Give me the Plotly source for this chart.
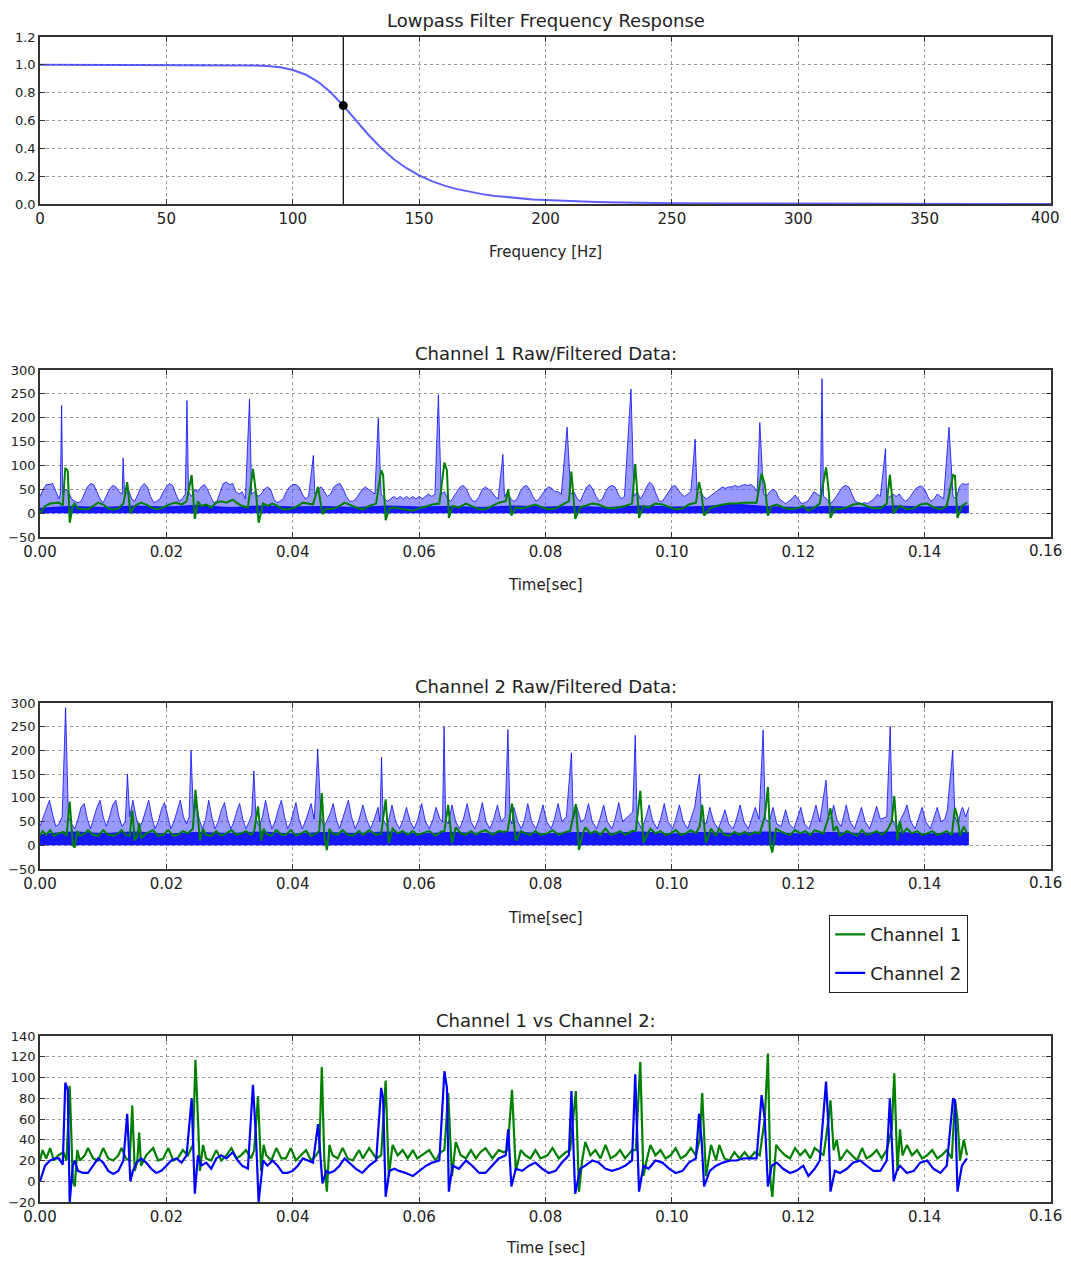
import plotly.graph_objects as go

# ---------------- data ----------------
freq_hz = [0, 10, 20, 30, 40, 50, 60, 70, 75, 80, 85, 90, 95, 100, 105, 110, 115, 120, 125, 130,
           135, 140, 145, 150, 155, 160, 165, 170, 175, 180, 185, 190, 195, 200, 210, 220, 230,
           240, 250, 275, 300, 350, 400]
gain = [1.0, 1.0, 1.0, 1.0, 1.0, 1.0, 1.0, 0.999, 0.999, 0.998, 0.996, 0.991, 0.982, 0.963, 0.931,
        0.878, 0.803, 0.707, 0.601, 0.496, 0.402, 0.322, 0.257, 0.205, 0.164, 0.132, 0.107, 0.087,
        0.071, 0.058, 0.048, 0.040, 0.033, 0.028, 0.020, 0.014, 0.011, 0.008, 0.006, 0.003, 0.002,
        0.001, 0.0]
cutoff_hz = 120
cutoff_gain = 0.707

# channel 1 raw signal: upper envelope (time s, value)
raw1_env = [
    (0.0000, 35), (0.0005, 50), (0.0010, 60), (0.0015, 60), (0.0020, 62), (0.0025, 45), (0.0030, 30),
    (0.0032, 40), (0.00342, 226), (0.0036, 40), (0.0040, 50), (0.0045, 45), (0.0050, 30), (0.0055, 25),
    (0.0060, 22), (0.0065, 25), (0.0070, 40), (0.0075, 55), (0.0080, 62), (0.0085, 60), (0.0090, 45),
    (0.0095, 30), (0.0100, 22), (0.0105, 35), (0.0110, 50), (0.0115, 58), (0.0120, 55), (0.0125, 45),
    (0.0130, 40), (0.01316, 116), (0.0134, 35), (0.0140, 50), (0.0145, 30), (0.0150, 25), (0.0155, 40),
    (0.0160, 55), (0.0165, 62), (0.0170, 55), (0.0175, 35), (0.0180, 22), (0.0185, 25), (0.0190, 30),
    (0.0195, 45), (0.0200, 55), (0.0205, 62), (0.0210, 58), (0.0215, 40), (0.0220, 25), (0.0225, 30),
    (0.0230, 40), (0.02326, 236), (0.0235, 45), (0.0240, 35), (0.0245, 50), (0.0250, 45), (0.0255, 55),
    (0.0260, 60), (0.0265, 50), (0.0270, 35), (0.0275, 22), (0.0280, 25), (0.0285, 45), (0.0290, 62),
    (0.0295, 65), (0.0300, 60), (0.0305, 62), (0.0310, 45), (0.0315, 40), (0.0320, 45), (0.0325, 30),
    (0.03316, 239), (0.0335, 40), (0.0340, 45), (0.0345, 35), (0.0350, 40), (0.0355, 50), (0.0360, 55),
    (0.0365, 50), (0.0370, 30), (0.0375, 22), (0.0380, 25), (0.0385, 30), (0.0390, 45), (0.0395, 55),
    (0.0400, 60), (0.0405, 60), (0.0410, 55), (0.0415, 40), (0.0420, 30), (0.0425, 35), (0.04326, 121),
    (0.0435, 40), (0.0440, 50), (0.0445, 55), (0.0450, 45), (0.0455, 35), (0.0460, 40), (0.0465, 55),
    (0.0470, 60), (0.0475, 62), (0.0480, 50), (0.0485, 35), (0.0490, 25), (0.0495, 25), (0.0500, 30),
    (0.0505, 40), (0.0510, 50), (0.0515, 55), (0.0520, 50), (0.0525, 45), (0.0530, 40), (0.05353, 199),
    (0.0540, 40), (0.0545, 30), (0.0550, 25), (0.0555, 30), (0.0560, 35), (0.0565, 30), (0.0570, 35),
    (0.0575, 30), (0.0580, 35), (0.0585, 30), (0.0590, 35), (0.0595, 30), (0.0600, 35), (0.0605, 30),
    (0.0610, 35), (0.0615, 40), (0.0620, 35), (0.0625, 40), (0.06305, 248), (0.0635, 40), (0.0640, 45),
    (0.0645, 30), (0.0650, 25), (0.0655, 35), (0.0660, 45), (0.0665, 55), (0.0670, 58), (0.0675, 50),
    (0.0680, 35), (0.0685, 25), (0.0690, 25), (0.0695, 35), (0.0700, 50), (0.0705, 55), (0.0710, 50),
    (0.0715, 45), (0.0720, 35), (0.0725, 30), (0.07326, 123), (0.0735, 35), (0.0740, 45), (0.0745, 30),
    (0.0750, 25), (0.0755, 30), (0.0760, 45), (0.0765, 55), (0.0770, 58), (0.0775, 50), (0.0780, 35),
    (0.0785, 25), (0.0790, 30), (0.0795, 40), (0.0800, 50), (0.0805, 55), (0.0810, 52), (0.0815, 45),
    (0.0820, 45), (0.0825, 40), (0.08342, 180), (0.0840, 40), (0.0845, 45), (0.0850, 30), (0.0855, 25),
    (0.0860, 40), (0.0865, 55), (0.0870, 60), (0.0875, 50), (0.0880, 35), (0.0885, 25), (0.0890, 30),
    (0.0895, 45), (0.0900, 55), (0.0905, 58), (0.0910, 55), (0.0915, 40), (0.0920, 30), (0.0925, 35),
    (0.09353, 260), (0.0940, 35), (0.0945, 45), (0.0950, 30), (0.0955, 40), (0.0960, 55), (0.0965, 65),
    (0.0970, 58), (0.0975, 40), (0.0980, 25), (0.0985, 25), (0.0990, 35), (0.0995, 45), (0.1000, 55),
    (0.1005, 58), (0.1010, 50), (0.1015, 40), (0.1020, 35), (0.1025, 40), (0.1030, 45), (0.10368, 155),
    (0.1040, 40), (0.1045, 45), (0.1050, 35), (0.1055, 30), (0.1060, 35), (0.1065, 40), (0.1070, 45),
    (0.1075, 50), (0.1080, 55), (0.1085, 52), (0.1090, 55), (0.1095, 55), (0.1100, 58), (0.1105, 55),
    (0.1110, 58), (0.1115, 60), (0.1120, 58), (0.1125, 60), (0.1130, 55), (0.1135, 45), (0.11392, 190),
    (0.1145, 40), (0.1150, 35), (0.1155, 45), (0.1160, 50), (0.1165, 45), (0.1170, 30), (0.1175, 25),
    (0.1180, 20), (0.1185, 25), (0.1190, 30), (0.1195, 38), (0.1200, 30), (0.1205, 20), (0.1210, 22),
    (0.1215, 25), (0.1220, 35), (0.1225, 45), (0.1230, 40), (0.1235, 35), (0.12376, 282), (0.1240, 35),
    (0.1245, 30), (0.1250, 20), (0.1255, 25), (0.1260, 35), (0.1265, 45), (0.1270, 55), (0.1275, 58),
    (0.1280, 55), (0.1285, 40), (0.1290, 25), (0.1295, 22), (0.1300, 20), (0.1305, 22), (0.1310, 20),
    (0.1315, 25), (0.1320, 30), (0.1325, 40), (0.1330, 35), (0.13381, 135), (0.1340, 30), (0.1345, 35),
    (0.1350, 40), (0.1355, 35), (0.1360, 40), (0.1365, 30), (0.1370, 25), (0.1375, 30), (0.1380, 40),
    (0.1385, 50), (0.1390, 55), (0.1395, 57), (0.1400, 50), (0.1405, 35), (0.1410, 25), (0.1415, 30),
    (0.1420, 40), (0.1425, 35), (0.1430, 30), (0.14386, 180), (0.1445, 35), (0.1450, 30), (0.1455, 55),
    (0.1460, 62), (0.1465, 60), (0.1470, 62),
]
# channel 1 raw signal: dense dark core top
raw1_core = [
    (0.000, 10), (0.005, 14), (0.010, 12), (0.015, 15), (0.020, 13), (0.025, 16), (0.030, 12),
    (0.035, 15), (0.040, 13), (0.045, 14), (0.050, 12), (0.055, 15), (0.060, 13), (0.065, 14),
    (0.070, 12), (0.075, 15), (0.080, 13), (0.085, 14), (0.090, 12), (0.095, 15), (0.100, 13),
    (0.105, 14), (0.110, 18), (0.115, 14), (0.120, 12), (0.125, 14), (0.130, 12), (0.135, 15),
    (0.140, 13), (0.147, 15),
]

# channel 2 raw signal: upper envelope
raw2_env = [
    (0.0000, 40), (0.0005, 60), (0.0010, 80), (0.0015, 95), (0.0020, 65), (0.0025, 40), (0.0030, 45),
    (0.0035, 60), (0.00405, 290), (0.0045, 60), (0.0050, 45), (0.0055, 35), (0.0060, 55), (0.0065, 80),
    (0.0070, 88), (0.0075, 55), (0.0080, 35), (0.0085, 55), (0.0090, 80), (0.0095, 95), (0.0100, 60),
    (0.0105, 40), (0.0110, 60), (0.0115, 85), (0.0120, 95), (0.0125, 60), (0.0130, 40), (0.0135, 50),
    (0.01384, 150), (0.0142, 60), (0.0147, 95), (0.0152, 60), (0.0157, 35), (0.0162, 50), (0.0167, 75),
    (0.0172, 95), (0.0177, 60), (0.0182, 35), (0.0187, 50), (0.0192, 75), (0.0197, 90), (0.0202, 60),
    (0.0207, 35), (0.0212, 50), (0.0217, 75), (0.0222, 95), (0.0227, 60), (0.0232, 45), (0.0236, 60),
    (0.0239, 200), (0.0243, 60), (0.0247, 90), (0.0252, 55), (0.0257, 35), (0.0262, 55), (0.0267, 95),
    (0.0272, 60), (0.0277, 35), (0.0282, 50), (0.0287, 75), (0.0292, 90), (0.0297, 55), (0.0302, 35),
    (0.0307, 50), (0.0312, 75), (0.0316, 88), (0.0321, 55), (0.0326, 35), (0.0331, 50), (0.0335, 65),
    (0.03384, 157), (0.0342, 55), (0.0347, 40), (0.0352, 60), (0.0357, 95), (0.0362, 60), (0.0367, 35),
    (0.0372, 50), (0.0377, 75), (0.0382, 95), (0.0387, 60), (0.0392, 35), (0.0397, 50), (0.0402, 75),
    (0.0405, 90), (0.0410, 55), (0.0415, 35), (0.0420, 50), (0.0425, 70), (0.0429, 88), (0.0434, 55),
    (0.04395, 203), (0.0445, 55), (0.0450, 40), (0.0455, 55), (0.0460, 70), (0.0464, 88), (0.0469, 55),
    (0.0474, 35), (0.0479, 55), (0.0484, 80), (0.0488, 95), (0.0493, 60), (0.0499, 35), (0.0505, 55),
    (0.0511, 85), (0.0517, 55), (0.0523, 35), (0.0529, 55), (0.0535, 80), (0.0538, 50), (0.05405, 186),
    (0.0543, 55), (0.0549, 40), (0.0553, 60), (0.0557, 85), (0.0563, 50), (0.0569, 35), (0.0575, 55),
    (0.0580, 80), (0.0586, 50), (0.0592, 35), (0.0598, 55), (0.0604, 88), (0.0610, 50), (0.0616, 35),
    (0.0622, 55), (0.0627, 80), (0.0633, 55), (0.0637, 50), (0.06395, 250), (0.0642, 55), (0.0646, 45),
    (0.0652, 85), (0.0658, 50), (0.0664, 35), (0.0670, 55), (0.0676, 88), (0.0682, 50), (0.0688, 35),
    (0.0694, 55), (0.0700, 90), (0.0706, 50), (0.0712, 35), (0.0718, 55), (0.0724, 85), (0.0730, 50),
    (0.0736, 60), (0.07405, 244), (0.0744, 55), (0.0747, 45), (0.0750, 80), (0.0756, 50), (0.0762, 35),
    (0.0767, 55), (0.0772, 88), (0.0778, 50), (0.0785, 35), (0.0790, 55), (0.0796, 85), (0.0802, 50),
    (0.0809, 35), (0.0814, 55), (0.0820, 88), (0.0826, 50), (0.0833, 60), (0.0841, 195), (0.0844, 55),
    (0.0850, 80), (0.0856, 50), (0.0862, 55), (0.0868, 88), (0.0874, 50), (0.0881, 35), (0.0886, 55),
    (0.0892, 85), (0.0898, 50), (0.0905, 35), (0.0910, 55), (0.0916, 90), (0.0922, 50), (0.0930, 60),
    (0.0938, 70), (0.0942, 232), (0.0945, 55), (0.0952, 35), (0.0958, 55), (0.0964, 85), (0.0970, 50),
    (0.0977, 35), (0.0982, 55), (0.0988, 88), (0.0994, 50), (0.1001, 35), (0.1006, 55), (0.1012, 85),
    (0.1018, 50), (0.1025, 35), (0.1030, 55), (0.1036, 80), (0.10437, 150), (0.1047, 55), (0.1054, 45),
    (0.1060, 80), (0.1066, 50), (0.1073, 35), (0.1078, 50), (0.1084, 75), (0.1090, 45), (0.1097, 35),
    (0.1102, 55), (0.1108, 85), (0.1114, 50), (0.1121, 35), (0.1126, 55), (0.1132, 80), (0.1138, 55),
    (0.11444, 243), (0.1148, 55), (0.1154, 50), (0.1160, 80), (0.1166, 45), (0.1173, 40), (0.1180, 75),
    (0.1186, 45), (0.1193, 35), (0.1198, 55), (0.1204, 80), (0.1210, 45), (0.1217, 35), (0.1222, 55),
    (0.1228, 85), (0.1234, 50), (0.12439, 137), (0.1248, 55), (0.1252, 60), (0.1256, 85), (0.1262, 50),
    (0.1268, 40), (0.1272, 60), (0.1276, 85), (0.1282, 50), (0.1289, 35), (0.1294, 55), (0.1300, 80),
    (0.1306, 50), (0.1313, 35), (0.1318, 55), (0.1324, 82), (0.1330, 55), (0.1340, 60), (0.13455, 251),
    (0.1349, 55), (0.1356, 35), (0.1362, 55), (0.1368, 70), (0.1372, 85), (0.1378, 50), (0.1385, 35),
    (0.1390, 55), (0.1396, 80), (0.1402, 50), (0.1409, 35), (0.1414, 55), (0.1420, 80), (0.1426, 50),
    (0.1432, 55), (0.1436, 75), (0.14444, 200), (0.1448, 60), (0.1453, 45), (0.1457, 70), (0.1460, 80),
    (0.1465, 60), (0.1470, 80),
]
raw2_core = [
    (0.000, 22), (0.005, 28), (0.010, 25), (0.015, 28), (0.020, 24), (0.025, 27), (0.030, 25),
    (0.035, 28), (0.040, 24), (0.045, 27), (0.050, 25), (0.055, 28), (0.060, 24), (0.065, 27),
    (0.070, 25), (0.075, 28), (0.080, 24), (0.085, 27), (0.090, 25), (0.095, 28), (0.100, 24),
    (0.105, 27), (0.110, 25), (0.115, 28), (0.120, 24), (0.125, 27), (0.130, 25), (0.135, 28),
    (0.140, 24), (0.147, 27),
]

# filtered channel 1 (green in the Channel 1 panel, blue in the bottom panel)
filt1 = [
    (0.0000, 0), (0.0008, 15), (0.0016, 20), (0.0024, 22), (0.0030, 22), (0.0036, 16), (0.0040, 95),
    (0.0044, 88), (0.0047, -20), (0.0052, 15), (0.0055, 20), (0.0060, 10), (0.0068, 8), (0.0076, 8),
    (0.0084, 15), (0.0092, 22), (0.0100, 18), (0.0108, 10), (0.0116, 7), (0.0124, 10), (0.0132, 20),
    (0.0138, 65), (0.0143, 0), (0.0147, 10), (0.0153, 18), (0.0160, 22), (0.0168, 18), (0.0176, 12),
    (0.0184, 8), (0.0192, 10), (0.0200, 15), (0.0208, 20), (0.0216, 22), (0.0224, 18), (0.0232, 25),
    (0.0240, 80), (0.0245, -12), (0.0250, 25), (0.0255, 15), (0.0263, 18), (0.0271, 12), (0.0279, 22),
    (0.0287, 25), (0.0295, 22), (0.0305, 28), (0.0313, 20), (0.0320, 15), (0.0329, 12), (0.0337, 93),
    (0.0342, 40), (0.0346, -20), (0.0353, 20), (0.0360, 15), (0.0368, 20), (0.0376, 15), (0.0384, 8),
    (0.0392, 8), (0.0400, 10), (0.0408, 15), (0.0416, 22), (0.0424, 20), (0.0432, 18), (0.0440, 55),
    (0.0444, 20), (0.0447, -2), (0.0453, 10), (0.0458, 8), (0.0466, 10), (0.0474, 15), (0.0482, 22),
    (0.0489, 18), (0.0500, 12), (0.0510, 8), (0.0521, 15), (0.0532, 20), (0.0540, 90), (0.0543, 80),
    (0.0547, -15), (0.0553, 10), (0.0561, 12), (0.0568, 10), (0.0579, 8), (0.0590, 5), (0.0600, 10),
    (0.0611, 15), (0.0621, 18), (0.0632, 20), (0.0640, 106), (0.0644, 90), (0.0647, -10), (0.0653, 15),
    (0.0663, 12), (0.0674, 20), (0.0684, 15), (0.0695, 8), (0.0705, 8), (0.0716, 15), (0.0726, 22),
    (0.0737, 25), (0.0741, 50), (0.0746, -5), (0.0753, 12), (0.0763, 10), (0.0774, 15), (0.0784, 18),
    (0.0795, 12), (0.0805, 8), (0.0816, 10), (0.0826, 18), (0.0837, 25), (0.0841, 87), (0.0847, -12),
    (0.0855, 12), (0.0863, 15), (0.0874, 20), (0.0884, 18), (0.0895, 12), (0.0905, 10), (0.0916, 12),
    (0.0926, 15), (0.0937, 20), (0.0942, 103), (0.0948, -10), (0.0955, 15), (0.0963, 12), (0.0974, 20),
    (0.0985, 18), (0.0996, 12), (0.1006, 8), (0.1017, 10), (0.1027, 18), (0.1038, 22), (0.1043, 65),
    (0.1047, 40), (0.1051, -5), (0.1060, 10), (0.1070, 15), (0.1081, 18), (0.1092, 20), (0.1102, 20),
    (0.1113, 22), (0.1123, 22), (0.1134, 22), (0.1142, 83), (0.1147, 60), (0.1152, -5), (0.1158, 15),
    (0.1166, 18), (0.1176, 12), (0.1187, 8), (0.1197, 10), (0.1208, 15), (0.1216, 5), (0.1226, 12),
    (0.1234, 20), (0.1244, 96), (0.1248, 50), (0.1251, -10), (0.1258, 10), (0.1266, 8), (0.1277, 12),
    (0.1287, 18), (0.1298, 20), (0.1308, 15), (0.1319, 10), (0.1330, 10), (0.1340, 20), (0.1345, 80),
    (0.1351, 0), (0.1356, 10), (0.1361, 15), (0.1372, 8), (0.1383, 10), (0.1393, 18), (0.1404, 20),
    (0.1414, 12), (0.1425, 8), (0.1435, 15), (0.1445, 80), (0.1448, 78), (0.1452, -10), (0.1459, 15),
    (0.1467, 22),
]

# filtered channel 2 (green in the Channel 2 panel and the bottom panel)
filt2 = [
    (0.0000, 20), (0.0004, 30), (0.0010, 22), (0.0016, 32), (0.0022, 20), (0.0029, 25), (0.0037, 28),
    (0.0042, 20), (0.0047, 92), (0.0052, 0), (0.0055, -5), (0.0059, 30), (0.0063, 20), (0.0071, 25),
    (0.0076, 32), (0.0084, 22), (0.0092, 20), (0.0100, 32), (0.0108, 22), (0.0116, 20), (0.0124, 25),
    (0.0129, 32), (0.0136, 22), (0.0142, 20), (0.0146, 73), (0.0150, 10), (0.0154, 20), (0.0157, 47),
    (0.0160, 15), (0.0168, 25), (0.0179, 32), (0.0187, 20), (0.0195, 22), (0.0203, 32), (0.0211, 20),
    (0.0218, 22), (0.0226, 30), (0.0234, 25), (0.0242, 35), (0.0246, 117), (0.0250, 60), (0.0253, 10),
    (0.0258, 35), (0.0263, 22), (0.0271, 20), (0.0279, 30), (0.0287, 20), (0.0295, 25), (0.0303, 32),
    (0.0311, 22), (0.0318, 25), (0.0326, 30), (0.0334, 22), (0.0339, 30), (0.0345, 82), (0.0350, 10),
    (0.0354, 35), (0.0358, 25), (0.0366, 20), (0.0374, 32), (0.0382, 22), (0.0389, 22), (0.0397, 32),
    (0.0405, 20), (0.0413, 25), (0.0421, 30), (0.0429, 20), (0.0437, 25), (0.0442, 30), (0.0446, 110),
    (0.0450, 20), (0.0454, -10), (0.0458, 35), (0.0463, 25), (0.0471, 22), (0.0479, 32), (0.0487, 22),
    (0.0495, 20), (0.0505, 30), (0.0511, 22), (0.0521, 32), (0.0532, 22), (0.0540, 25), (0.0547, 97),
    (0.0552, 5), (0.0558, 35), (0.0566, 25), (0.0574, 30), (0.0582, 22), (0.0590, 30), (0.0597, 22),
    (0.0605, 25), (0.0616, 30), (0.0626, 20), (0.0634, 28), (0.0640, 30), (0.0646, 85), (0.0652, 5),
    (0.0658, 38), (0.0666, 25), (0.0674, 22), (0.0682, 30), (0.0690, 22), (0.0697, 28), (0.0705, 32),
    (0.0716, 22), (0.0726, 30), (0.0734, 28), (0.0740, 30), (0.0747, 88), (0.0753, 10), (0.0761, 30),
    (0.0768, 25), (0.0776, 22), (0.0784, 30), (0.0792, 22), (0.0803, 25), (0.0811, 32), (0.0821, 22),
    (0.0832, 28), (0.0839, 30), (0.0848, 87), (0.0853, -10), (0.0858, 20), (0.0863, 38), (0.0871, 25),
    (0.0879, 30), (0.0887, 22), (0.0895, 35), (0.0903, 22), (0.0911, 25), (0.0918, 30), (0.0926, 22),
    (0.0937, 30), (0.0943, 30), (0.0950, 115), (0.0955, 5), (0.0960, 20), (0.0966, 35), (0.0974, 25),
    (0.0982, 30), (0.0990, 22), (0.0998, 25), (0.1006, 32), (0.1014, 22), (0.1022, 25), (0.1030, 32),
    (0.1038, 25), (0.1044, 40), (0.1048, 85), (0.1054, 5), (0.1062, 35), (0.1070, 20), (0.1075, 35),
    (0.1083, 22), (0.1091, 20), (0.1099, 28), (0.1107, 22), (0.1115, 28), (0.1123, 22), (0.1131, 28),
    (0.1139, 25), (0.1147, 60), (0.1152, 123), (0.1156, 0), (0.1159, -15), (0.1165, 35), (0.1171, 30),
    (0.1179, 25), (0.1187, 22), (0.1195, 32), (0.1203, 25), (0.1211, 30), (0.1219, 22), (0.1226, 32),
    (0.1234, 28), (0.1240, 25), (0.1248, 60), (0.1251, 78), (0.1256, 30), (0.1261, 40), (0.1266, 20),
    (0.1277, 30), (0.1285, 25), (0.1293, 20), (0.1301, 32), (0.1308, 22), (0.1316, 25), (0.1324, 30),
    (0.1332, 22), (0.1340, 30), (0.1348, 50), (0.1352, 104), (0.1357, 10), (0.1361, 50), (0.1365, 25),
    (0.1372, 35), (0.1380, 25), (0.1388, 30), (0.1396, 22), (0.1404, 25), (0.1412, 30), (0.1420, 22),
    (0.1427, 25), (0.1435, 30), (0.1443, 22), (0.1448, 79), (0.1452, 60), (0.1456, 20), (0.1462, 40),
    (0.1467, 25),
]

freq_ticks = [0, 50, 100, 150, 200, 250, 300, 350, 400]
gain_ticks = [0.0, 0.2, 0.4, 0.6, 0.8, 1.0, 1.2]
time_ticks = [0.00, 0.02, 0.04, 0.06, 0.08, 0.10, 0.12, 0.14, 0.16]
raw_ticks = [-50, 0, 50, 100, 150, 200, 250, 300]
cmp_ticks = [-20, 0, 20, 40, 60, 80, 100, 120, 140]

titles = ["Lowpass Filter Frequency Response", "Channel 1 Raw/Filtered Data:",
          "Channel 2 Raw/Filtered Data:", "Channel 1 vs Channel 2:"]
xlabels = ["Frequency [Hz]", "Time[sec]", "Time[sec]", "Time [sec]"]
legend_names = ["Channel 1", "Channel 2"]


def unzip(pairs):
    return [p[0] for p in pairs], [p[1] for p in pairs]


# ---------------- figure ----------------
FONT = "DejaVu Sans, sans-serif"
PAGE_OFF = 8                      # browser body margin
W, H = 1071 - 2 * PAGE_OFF, 1265 - 2 * PAGE_OFF
BLUE = "#0000ff"
GREEN = "#008000"


def px_x(p):
    return (p - PAGE_OFF) / W


def px_y(p):
    return 1 - (p - PAGE_OFF) / H


fig = go.Figure()

# panel 1
fig.add_trace(go.Scatter(x=freq_hz, y=gain, mode="lines", line=dict(color="rgba(40,40,255,0.75)", width=2),
                         showlegend=False, xaxis="x", yaxis="y"))
fig.add_trace(go.Scatter(x=[cutoff_hz], y=[cutoff_gain], mode="markers",
                         marker=dict(color="black", size=9), showlegend=False, xaxis="x", yaxis="y"))

# panels 2 and 3
for env, core, filt, xa, ya in [(raw1_env, raw1_core, filt1, "x2", "y2"),
                                (raw2_env, raw2_core, filt2, "x3", "y3")]:
    tx, vy = unzip(env)
    fig.add_trace(go.Scatter(x=tx, y=vy, mode="lines", fill="tozeroy",
                             fillcolor="rgba(70,70,255,0.55)", line=dict(color="rgba(0,0,255,0.75)", width=1),
                             showlegend=False, xaxis=xa, yaxis=ya))
    tx, vy = unzip(core)
    fig.add_trace(go.Scatter(x=tx, y=vy, mode="lines", fill="tozeroy", fillcolor="rgba(0,0,255,0.85)",
                             line=dict(color="rgba(0,0,255,0.85)", width=1, shape="spline"),
                             showlegend=False, xaxis=xa, yaxis=ya))
    tx, vy = unzip(filt)
    fig.add_trace(go.Scatter(x=tx, y=vy, mode="lines", line=dict(color=GREEN, width=2),
                             showlegend=False, xaxis=xa, yaxis=ya))

# panel 4
tx, vy = unzip(filt2)
fig.add_trace(go.Scatter(x=tx, y=vy, mode="lines", line=dict(color=GREEN, width=2.2),
                         name=legend_names[0], legendgroup="a", xaxis="x4", yaxis="y4"))
tx, vy = unzip(filt1)
fig.add_trace(go.Scatter(x=tx, y=vy, mode="lines", line=dict(color=BLUE, width=2.2),
                         name=legend_names[1], legendgroup="b", xaxis="x4", yaxis="y4"))

# layout geometry (reference pixels from the top-left of the page)
x_dom = [px_x(40), px_x(1051)]
panels_px = [(37, 204), (370, 537), (703, 869), (1036, 1202)]
title_px = [20, 353, 686, 1020]
xlabel_px = [252, 585, 918, 1248]
TICK_X, TICK_Y = 15, 13


def axis_common(size):
    return dict(showline=True, linecolor="#333", linewidth=1.5, mirror="ticks", ticks="inside",
                ticklen=5, tickcolor="#333", showgrid=True, gridcolor="#999", griddash="dot",
                gridwidth=1, zeroline=False, tickfont=dict(family=FONT, size=size, color="#222"),
                automargin=False)


layout = dict(width=W, height=H, paper_bgcolor="white", plot_bgcolor="white",
              margin=dict(l=0, r=0, t=0, b=0), font=dict(family=FONT, color="#222"),
              legend=dict(x=px_x(829), y=px_y(915), xanchor="left", yanchor="top",
                          bgcolor="white", bordercolor="#222", borderwidth=1.2,
                          font=dict(family=FONT, size=18, color="#222"), tracegroupgap=12,
                          itemwidth=30))

ranges = [([0, 400], [0, 1.2], freq_ticks, gain_ticks, ".0f", ".1f", "{:.0f}"),
          ([0, 0.16], [-50, 300], time_ticks, raw_ticks, ".2f", "d", "{:.2f}"),
          ([0, 0.16], [-50, 300], time_ticks, raw_ticks, ".2f", "d", "{:.2f}"),
          ([0, 0.16], [-20, 140], time_ticks, cmp_ticks, ".2f", "d", "{:.2f}")]

annotations = []
for i, ((top, bot), (xr, yr, xt, yt, xf, yf, lastfmt)) in enumerate(zip(panels_px, ranges)):
    sfx = "" if i == 0 else str(i + 1)
    xa = axis_common(TICK_X)
    # the last tick label is drawn as an annotation nudged inward so it stays inside the page
    xa.update(domain=x_dom, range=xr, tickvals=xt, ticktext=[(xf and ("{:" + xf + "}").format(v)) for v in xt[:-1]] + [""],
              anchor="y" + sfx)
    ya = axis_common(TICK_Y)
    ya.update(domain=[px_y(bot), px_y(top)], range=yr, tickvals=yt, tickformat=yf, anchor="x" + sfx)
    layout["xaxis" + sfx] = xa
    layout["yaxis" + sfx] = ya
    annotations.append(dict(text=lastfmt.format(xt[-1]), x=xt[-1], xref="x" + sfx, y=px_y(bot), yref="paper",
                            showarrow=False, xanchor="center", yanchor="top", xshift=-6, yshift=-3,
                            font=dict(family=FONT, size=TICK_X, color="#222")))
    annotations.append(dict(text=titles[i], x=(x_dom[0] + x_dom[1]) / 2, y=px_y(title_px[i]),
                            xref="paper", yref="paper", showarrow=False, xanchor="center",
                            yanchor="middle", font=dict(family=FONT, size=18, color="#222")))
    annotations.append(dict(text=xlabels[i], x=(x_dom[0] + x_dom[1]) / 2, y=px_y(xlabel_px[i]),
                            xref="paper", yref="paper", showarrow=False, xanchor="center",
                            yanchor="middle", font=dict(family=FONT, size=15, color="#222")))
layout["annotations"] = annotations
fig.update_layout(**layout)

fig.add_vline(x=cutoff_hz, line=dict(color="black", width=1.2), xref="x", yref="y")

fig.write_html("out.html")
